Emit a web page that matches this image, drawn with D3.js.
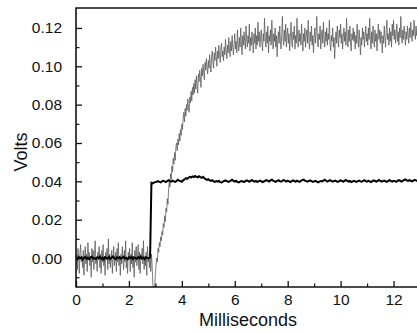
<!DOCTYPE html>
<html><head><meta charset="utf-8">
<script src="https://cdn.jsdelivr.net/npm/d3@7"></script>
<style>
html,body{margin:0;padding:0;background:#fff;}
svg{display:block;}
text{font-family:"Liberation Sans",Arial,sans-serif;fill:#111;}
</style></head>
<body>
<svg id="chart" width="417" height="333"></svg>
<script>
// Sampling intervals of the traces (ms)
const grayStepMs = 0.025;
const blackStepMs = 0.05;
// Gray trace, millivolts, one value per 0.025 ms from 0 to 13 ms
const grayMv = [
-3,2,-6,5,-1,-8,3,7,-2,1,-5,4,-9,0,6,-3,2,-7,8,-1,
3,-4,1,-10,5,-2,4,-6,2,9,-3,0,-7,3,-1,6,-5,2,-8,4,
-2,7,-4,1,-9,3,-1,5,-6,10,-3,2,-5,-1,4,-8,1,6,-4,0,
3,-7,5,-2,8,-4,1,-9,2,-3,6,-1,-6,4,-2,9,-5,0,-8,3,
-1,5,-7,2,-3,8,-5,1,-10,4,-2,6,-4,0,7,-6,3,-8,2,-1,
5,-3,9,-6,1,-4,3,-9,6,-2,0,-5,4,-7,2,-3,-12,-19,-20,-15,
-8,-4,0,-2,5,3,8,6,11,9,14,12,18,16,22,19,26,24,31,28,
36,40,37,44,41,48,45,52,49,55,51,58,60,56,62,59,65,61,67,64,
70,67,73,76,71,78,74,80,77,83,79,76,84,81,87,82,89,85,91,86,
93,88,95,90,86,96,92,98,94,89,99,95,101,97,93,102,98,104,99,96,
103,99,106,101,97,105,108,102,99,107,103,110,105,100,108,104,111,106,102,109,
112,105,108,103,110,106,114,108,104,111,107,115,109,105,113,108,116,110,106,112,
117,109,113,107,119,111,108,115,110,120,112,106,116,111,118,113,109,121,114,110,
116,112,122,108,115,111,118,113,107,117,112,120,109,116,111,123,113,118,110,115,
119,112,108,117,113,125,114,110,118,112,121,107,116,113,119,111,124,115,109,117,
113,120,110,116,105,114,118,112,121,113,109,117,126,114,111,119,113,122,110,116,
120,112,117,108,115,123,113,110,118,114,121,109,116,112,125,115,110,119,113,117,
111,122,114,108,117,113,120,110,116,119,112,124,114,109,118,113,121,111,116,107,
115,120,112,118,126,113,110,117,114,121,109,116,119,112,123,114,110,118,113,120,
111,117,114,124,112,108,116,113,120,110,115,104,113,118,112,121,114,110,119,115,
122,112,117,109,115,120,113,118,111,125,115,110,119,113,121,112,108,117,114,120,
113,118,109,116,112,122,114,110,119,113,106,115,111,120,114,118,110,116,121,113,
117,111,120,114,125,113,109,118,112,121,115,110,119,113,117,108,116,122,114,119,
112,118,114,107,116,112,121,115,110,119,124,114,117,111,120,113,118,110,122,116,
124,114,119,112,117,122,113,118,111,120,115,126,116,112,119,114,121,116,111,118,
114,121,116,112,120,115,123,117,113,119,116,124,118,114,121,116,120,115,123,118,
117
];
// Black trace, millivolts, one value per 0.05 ms from 0 to 13 ms
const blackMv = [
0.3,-0.5,0.6,-0.2,0.4,-0.7,0.1,0.5,-0.4,0.2,-0.6,0.3,0.7,-0.3,0.0,-0.5,0.4,-0.1,0.6,-0.4,
0.2,-0.7,0.5,0.0,-0.3,0.6,-0.5,0.3,0.8,-0.2,-0.6,0.4,-0.1,0.5,-0.4,0.2,0.7,-0.3,0.1,-0.6,
0.4,-0.2,0.6,-0.5,0.3,0.0,-0.4,0.5,-0.1,0.7,-0.3,0.2,-0.6,0.4,0.1,-0.2,0.5,
39.2,38.9,39.4,39.6,39.8,40.1,39.7,39.5,40.0,40.3,
40.0,39.6,40.2,40.6,40.1,39.8,40.3,40.0,39.7,40.2,
40.8,40.4,40.1,39.8,40.5,41.0,41.6,41.3,41.9,42.3,
42.0,42.6,42.2,42.8,42.4,42.1,42.7,42.2,41.8,42.3,
41.6,41.2,40.8,41.1,40.5,40.2,40.6,40.0,39.7,40.1,
39.8,40.3,39.6,39.4,39.8,40.2,40.5,40.1,39.7,40.0,
40.4,40.8,40.2,39.9,40.3,39.7,39.5,39.9,40.2,40.0,
39.6,40.1,40.5,40.2,39.8,40.3,40.7,40.1,39.8,40.2,
39.7,40.0,40.4,40.1,39.6,39.9,40.3,40.6,40.2,39.9,
40.5,40.9,40.3,40.0,39.7,40.2,40.6,40.1,39.8,40.3,
40.7,40.2,39.9,40.4,40.0,39.6,40.1,40.5,40.2,39.8,
40.3,40.0,39.7,40.2,40.6,40.9,40.4,40.1,39.8,40.2,
40.5,40.1,39.7,40.0,40.3,39.9,39.5,39.9,40.2,40.0,
40.4,40.8,40.3,39.9,40.2,40.6,40.2,39.8,40.1,40.4,
40.0,39.7,40.1,40.5,40.2,39.8,40.3,40.7,40.2,39.9,
40.2,39.6,39.9,40.3,40.0,39.7,40.1,40.4,40.0,39.8,
40.2,40.6,40.1,39.8,40.3,40.0,39.6,40.1,40.5,40.2,
39.9,40.3,40.7,40.2,39.8,40.1,40.4,40.0,39.7,40.2,
40.6,40.2,39.9,40.3,40.1,39.7,40.2,40.6,40.3,39.9,
40.3,40.7,41.0,40.5,40.2,40.6,40.3,40.0,40.4,40.8,
40.5,40.2,40.6,40.4
];
const xTicksMajor = [0,2,4,6,8,10,12];
const xTicksMinor = [1,3,5,7,9,11,13];
const yTicksMajor = [0.00,0.02,0.04,0.06,0.08,0.10,0.12];
const yTicksMinor = [-0.01,0.01,0.03,0.05,0.07,0.09,0.11,0.13];
const xTitle = "Milliseconds";
const yTitle = "Volts";

(function draw(){
const svg = d3.select("#chart");
const pl = 76, pr = 420, pt = 8, pb = 287;
const x = d3.scaleLinear().domain([0,13]).range([pl,pr]);
const y = d3.scaleLinear().domain([-0.0151,0.1304]).range([pb,pt]);

svg.append("defs").append("clipPath").attr("id","clip")
  .append("rect").attr("x",pl).attr("y",pt).attr("width",pr-pl).attr("height",pb-pt);

const toPts = (arr, step) => arr.map((v,i)=>[i*step, v/1000]);
const line = d3.line().x(d=>x(d[0])).y(d=>y(d[1]));

const plot = svg.append("g").attr("clip-path","url(#clip)");
plot.append("path").datum(toPts(grayMv, grayStepMs))
  .attr("d",line).attr("fill","none").attr("stroke","#555")
  .attr("stroke-width",0.75).attr("stroke-linejoin","round");
plot.append("path").datum(toPts(blackMv, blackStepMs))
  .attr("d",line).attr("fill","none").attr("stroke","#000")
  .attr("stroke-width",2).attr("stroke-linejoin","miter");

const xAxis = d3.axisBottom(x).tickValues(xTicksMajor).tickSize(-6).tickPadding(7).tickFormat(d3.format("d"));
const gx = svg.append("g").attr("transform",`translate(0,${pb})`).call(xAxis);
gx.select(".domain").remove();
gx.selectAll(".tick line").attr("stroke","#111").attr("stroke-width",1.3);
gx.selectAll(".tick text").attr("font-size",15.5).attr("fill","#111").attr("font-family","Liberation Sans, Arial, sans-serif");
svg.append("g").attr("transform",`translate(0,${pb})`)
  .call(d3.axisBottom(x).tickValues(xTicksMinor).tickSize(-3.5).tickFormat(""))
  .call(g=>g.select(".domain").remove())
  .selectAll(".tick line").attr("stroke","#111").attr("stroke-width",1.2);

const yAxis = d3.axisLeft(y).tickValues(yTicksMajor).tickSize(-6).tickPadding(14).tickFormat(d3.format(".2f"));
const gy = svg.append("g").attr("transform",`translate(${pl},0)`).call(yAxis);
gy.select(".domain").remove();
gy.selectAll(".tick line").attr("stroke","#111").attr("stroke-width",1.3);
gy.selectAll(".tick text").attr("font-size",15.5).attr("fill","#111").attr("font-family","Liberation Sans, Arial, sans-serif");
svg.append("g").attr("transform",`translate(${pl},0)`)
  .call(d3.axisLeft(y).tickValues(yTicksMinor.filter(v=>y(v)>pt+2 && y(v)<pb-2)).tickSize(-3.5).tickFormat(""))
  .call(g=>g.select(".domain").remove())
  .selectAll(".tick line").attr("stroke","#111").attr("stroke-width",1.2);

svg.append("path")
  .attr("d",`M${pr+5},${pt}H${pl}V${pb}H${pr+5}`)
  .attr("fill","none").attr("stroke","#111").attr("stroke-width",1.6);

svg.append("text").attr("x",(pl+pr)/2).attr("y",326)
  .attr("text-anchor","middle").attr("font-size",18).text(xTitle);
svg.append("text").attr("transform",`translate(27,152) rotate(-90)`)
  .attr("text-anchor","middle").attr("font-size",18).text(yTitle);
})();
</script>
</body></html>
